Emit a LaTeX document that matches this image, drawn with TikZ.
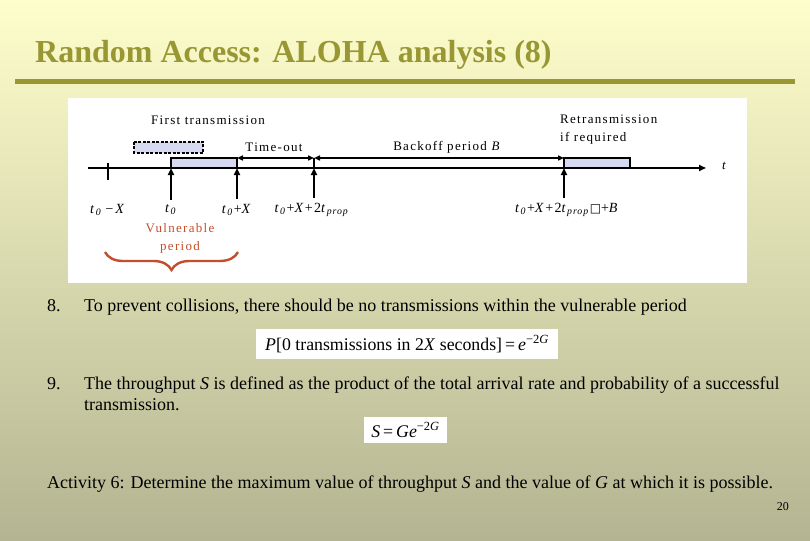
\documentclass[tikz,border=0pt]{standalone}
\usepackage{fontspec}
\setmainfont{Liberation Serif}
\newfontfamily\diagfont{Liberation Serif}[LetterSpace=10]
\newfontfamily\dejavu{DejaVu Sans}
\usepackage{tikz}
\usetikzlibrary{arrows.meta,decorations.pathreplacing}

\definecolor{bgtop}{RGB}{254,254,204}
\definecolor{bgbot}{RGB}{180,180,146}
\definecolor{titleol}{RGB}{153,150,52}
\definecolor{pktfill}{RGB}{214,217,240}
\definecolor{vulred}{RGB}{196,78,44}

\newcommand{\tz}{\textit{t}\textsubscript{\textit{0}}}

\tikzset{
  lbl/.style={font=\diagfont\fontsize{13}{18}\selectfont, inner sep=1pt},
  tlbl/.style={font=\diagfont\fontsize{14}{18}\selectfont, inner sep=1pt},
  body/.style={font=\fontsize{18}{21}\selectfont, inner sep=0pt},
  timeline/.style={line width=1.8pt, -{Triangle[length=7pt,width=6pt]}},
  uparrow/.style={line width=1.8pt, -{Triangle[length=7pt,width=6pt]}},
  dblarrow/.style={line width=1.8pt, {Triangle[length=6pt,width=5pt]}-{Triangle[length=6pt,width=5pt]}},
  pkt/.style={line width=1.8pt},
  formula/.style={fill=white, font=\fontsize{17.8}{20}\selectfont, inner sep=0pt}
}

\begin{document}
\begin{tikzpicture}[x=1pt,y=-1pt]
% Background
\shade[top color=bgtop, bottom color=bgbot] (0,0) rectangle (810,540);
\useasboundingbox (0,0) rectangle (810,540);

% Title
\node[anchor=base west, inner sep=0pt, text=titleol, font=\fontsize{32}{38}\selectfont\bfseries] (title) at (35,63) {Random Access: ALOHA analysis (8)};
\fill[titleol] (15,79) rectangle (795,84);

% Diagram panel
\fill[white] (68,98) rectangle (747,283);

% Points on the time axis
\coordinate (tmX) at (108,168);
\coordinate (tzero) at (171,168);
\coordinate (tX) at (237,168);
\coordinate (tprop) at (314,168);
\coordinate (tB) at (564,168);
\coordinate (tstart) at (88,168);
\coordinate (tend) at (706,168);

% Packets
\fill[pktfill] (tzero) rectangle ([yshift=10pt]tX);
\draw[pkt] (tzero) -- ++(0,-10) -| (tX);
\fill[pktfill] (tB) rectangle ++(66,-10);
\draw[pkt] (tB) -- ++(0,-10) -- ++(66,0) -- ++(0,10);
\draw[line width=1.8pt, dash pattern=on 3pt off 1.5pt, fill=pktfill] (134,142) rectangle (203,153);

% Time axis
\draw[timeline] (tstart) -- (tend);
\draw[line width=1.8pt] ([yshift=5pt]tmX) -- ([yshift=-12pt]tmX);
\node[lbl, anchor=west] (tlab) at (721,166) {\textit{t}};

% Time-out and backoff
\coordinate (toA) at ([yshift=10pt]tX);
\coordinate (toB) at ([yshift=10pt]tprop);
\coordinate (boB) at ([yshift=10pt]tB);
\draw[line width=1.8pt] (toB) -- (tprop);
\draw[dblarrow] (toA) -- (toB);
\draw[dblarrow] (toB) -- (boB);

% Labels above the axis
\node[lbl] (first) at (208,120) {First transmission};
\node[lbl] (timeout) at (274,147) {Time-out};
\node[lbl] (backoff) at (447,147) {Backoff period \textit{B}};
\node[lbl, anchor=west, align=left] (retx) at (559,130) {Retransmission\\if required};

% Labels below the axis
\node[tlbl] (lmX) at (108,210) {\tz\,\textit{−X}};
\node[tlbl] (lzero) at (171,210) {\tz};
\node[tlbl] (lX) at (237,210) {\tz+\textit{X}};
\node[tlbl] (lprop) at (312,210) {\tz+\textit{X}+2\textit{t}\textsubscript{\textit{prop}}};
\node[tlbl] (lB) at (567,210) {\tz+\textit{X}+2\textit{t}\textsubscript{\textit{prop}}{\dejavu\fontsize{12}{12}\selectfont □}+\textit{B}};

% Arrows up to the axis
\draw[uparrow] ([yshift=4pt]lzero.north -| tzero) -- (tzero);
\draw[uparrow] ([yshift=4pt]lX.north -| tX) -- (tX);
\draw[uparrow] ([yshift=4pt]lprop.north -| tprop) -- (tprop);
\draw[uparrow] ([yshift=4pt]lB.north -| tB) -- (tB);

% Vulnerable period
\node[lbl, text=vulred, align=center] (vuln) at (180,238) {Vulnerable\\period};
\draw[vulred, line width=2.4pt, decorate, decoration={brace, amplitude=18pt}] (238,252) -- (105,252);

% Text
\node[body, anchor=base west] (n8) at (47,311) {8.};
\node[body, anchor=base west] (l8) at (84,311) {To prevent collisions, there should be no transmissions within the vulnerable period};
\node[formula, minimum width=302pt, minimum height=30pt] (f1) at (407,344) {\textit{P}[0 transmissions in 2\textit{X} seconds]\,=\,\textit{e}\textsuperscript{−2\textit{G}}};
\node[body, anchor=base west] (n9) at (47,389) {9.};
\node[body, anchor=base west] (l9) at (84,389) {The throughput \textit{S} is defined as the product of the total arrival rate and probability of a successful};
\node[body, anchor=base west] (l9b) at (84,410) {transmission.};
\node[formula, minimum width=83pt, minimum height=26pt] (f2) at (405.5,430) {\textit{S}\,=\,\textit{Ge}\textsuperscript{−2\textit{G}}};
\node[body, anchor=base west] (act) at (47,488) {Activity 6: Determine the maximum value of throughput \textit{S} and the value of \textit{G} at which it is possible.};
\node[anchor=base east, inner sep=0pt, font=\fontsize{12}{14}\selectfont] (page) at (789,510) {20};
\end{tikzpicture}
\end{document}
